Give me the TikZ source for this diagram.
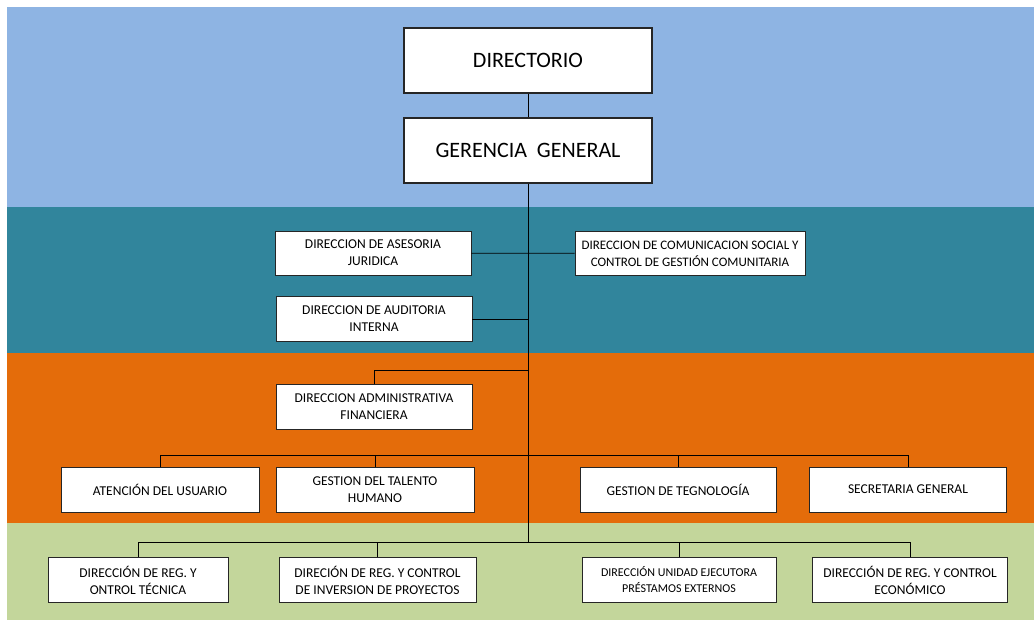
\documentclass[tikz,border=0pt]{standalone}
\usepackage{fontspec}
\setmainfont{Carlito}
\usepackage{tikz}
\usetikzlibrary{calc,positioning}
\definecolor{bandblue}{HTML}{8EB4E3}
\definecolor{bandteal}{HTML}{31859C}
\definecolor{bandorange}{HTML}{E46C0A}
\definecolor{bandgreen}{HTML}{C3D69B}

\begin{document}
\begin{tikzpicture}[x=1pt, y=-1pt, line width=0.8pt]
   \useasboundingbox (0,0) rectangle (1034,620);
   % fondos
   \fill[bandblue]   (7,7)   rectangle (1034,207);
   \fill[bandteal]   (7,207) rectangle (1034,353);
   \fill[bandorange] (7,353) rectangle (1034,523);
   \fill[bandgreen]  (7,523) rectangle (1034,620);
   \begin{scope}[every node/.style={draw=black!85,fill=white,text=black,align=center,inner sep=2pt,
                 minimum height=45pt,font=\fontsize{13.5}{17}\selectfont}]
    \node (dir) [minimum width=248pt, minimum height=65pt, line width=1.1pt, font=\fontsize{22}{26}\selectfont] at (528,60.5) {DIRECTORIO};
    \node (ger) [minimum width=248pt, minimum height=65pt, line width=1.1pt, font=\fontsize{22}{26}\selectfont] at (528,150.5) {GERENCIA\ \ GENERAL};
    \node (jur) [minimum width=196pt, minimum height=44pt] at (373,253) {DIRECCION DE ASESORIA\\JURIDICA};
    \node (com) [minimum width=230pt, minimum height=44pt, font=\fontsize{13}{17}\selectfont] at (690,253.5) {DIRECCION DE COMUNICACION SOCIAL Y\\CONTROL DE GESTIÓN COMUNITARIA};
    \node (aud) [minimum width=196pt] at (374,319) {DIRECCION DE AUDITORIA\\INTERNA};
    \node (adm) [minimum width=196pt] at (374,406.5) {DIRECCION ADMINISTRATIVA\\FINANCIERA};
    \node (usu) [minimum width=198pt] at (160,489.5) {ATENCIÓN DEL USUARIO};
    \node (tal) [minimum width=198pt] at (375,489.5) {GESTION DEL TALENTO\\HUMANO};
    \node (tec) [minimum width=196pt] at (678,489.5) {GESTION DE TEGNOLOGÍA};
    \node (sec) [minimum width=197pt] at (908,489.5) {SECRETARIA GENERAL};
    \node (tcn) [minimum width=180pt] at (138,580) {DIRECCIÓN DE REG. Y\\ONTROL TÉCNICA};
    \node (pry) [minimum width=197pt] at (377.5,580) {DIRECIÓN DE REG. Y CONTROL\\DE INVERSION DE PROYECTOS};
    \node (pre) [minimum width=194pt, font=\fontsize{12}{16}\selectfont] at (679,580) {DIRECCIÓN UNIDAD EJECUTORA\\PRÉSTAMOS EXTERNOS};
    \node (eco) [minimum width=195pt] at (910,580) {DIRECCIÓN DE REG. Y CONTROL\\ECONÓMICO};
   \end{scope}
   \coordinate (jadm) at (528,370);
   \coordinate (jmid) at (528,455);
   \coordinate (jbot) at (528,542);
   \begin{scope}[draw=black, line width=0.8pt]
    \draw (dir) -- (ger);
    \draw (ger.south) -- (jbot);
    \draw (jur) -- (com);
    \draw (aud.east) -- (aud.east -| jmid);
    \draw (jadm) -| (adm.north);
    \draw (usu.north |- jmid) -- (sec.north |- jmid);
    \foreach \n in {usu,tal,tec,sec}
      \draw (\n.north) -- (\n.north |- jmid);
    \draw (tcn.north |- jbot) -- (eco.north |- jbot);
    \foreach \n in {tcn,pry,pre,eco}
      \draw (\n.north) -- (\n.north |- jbot);
   \end{scope}
\end{tikzpicture}
\end{document}
